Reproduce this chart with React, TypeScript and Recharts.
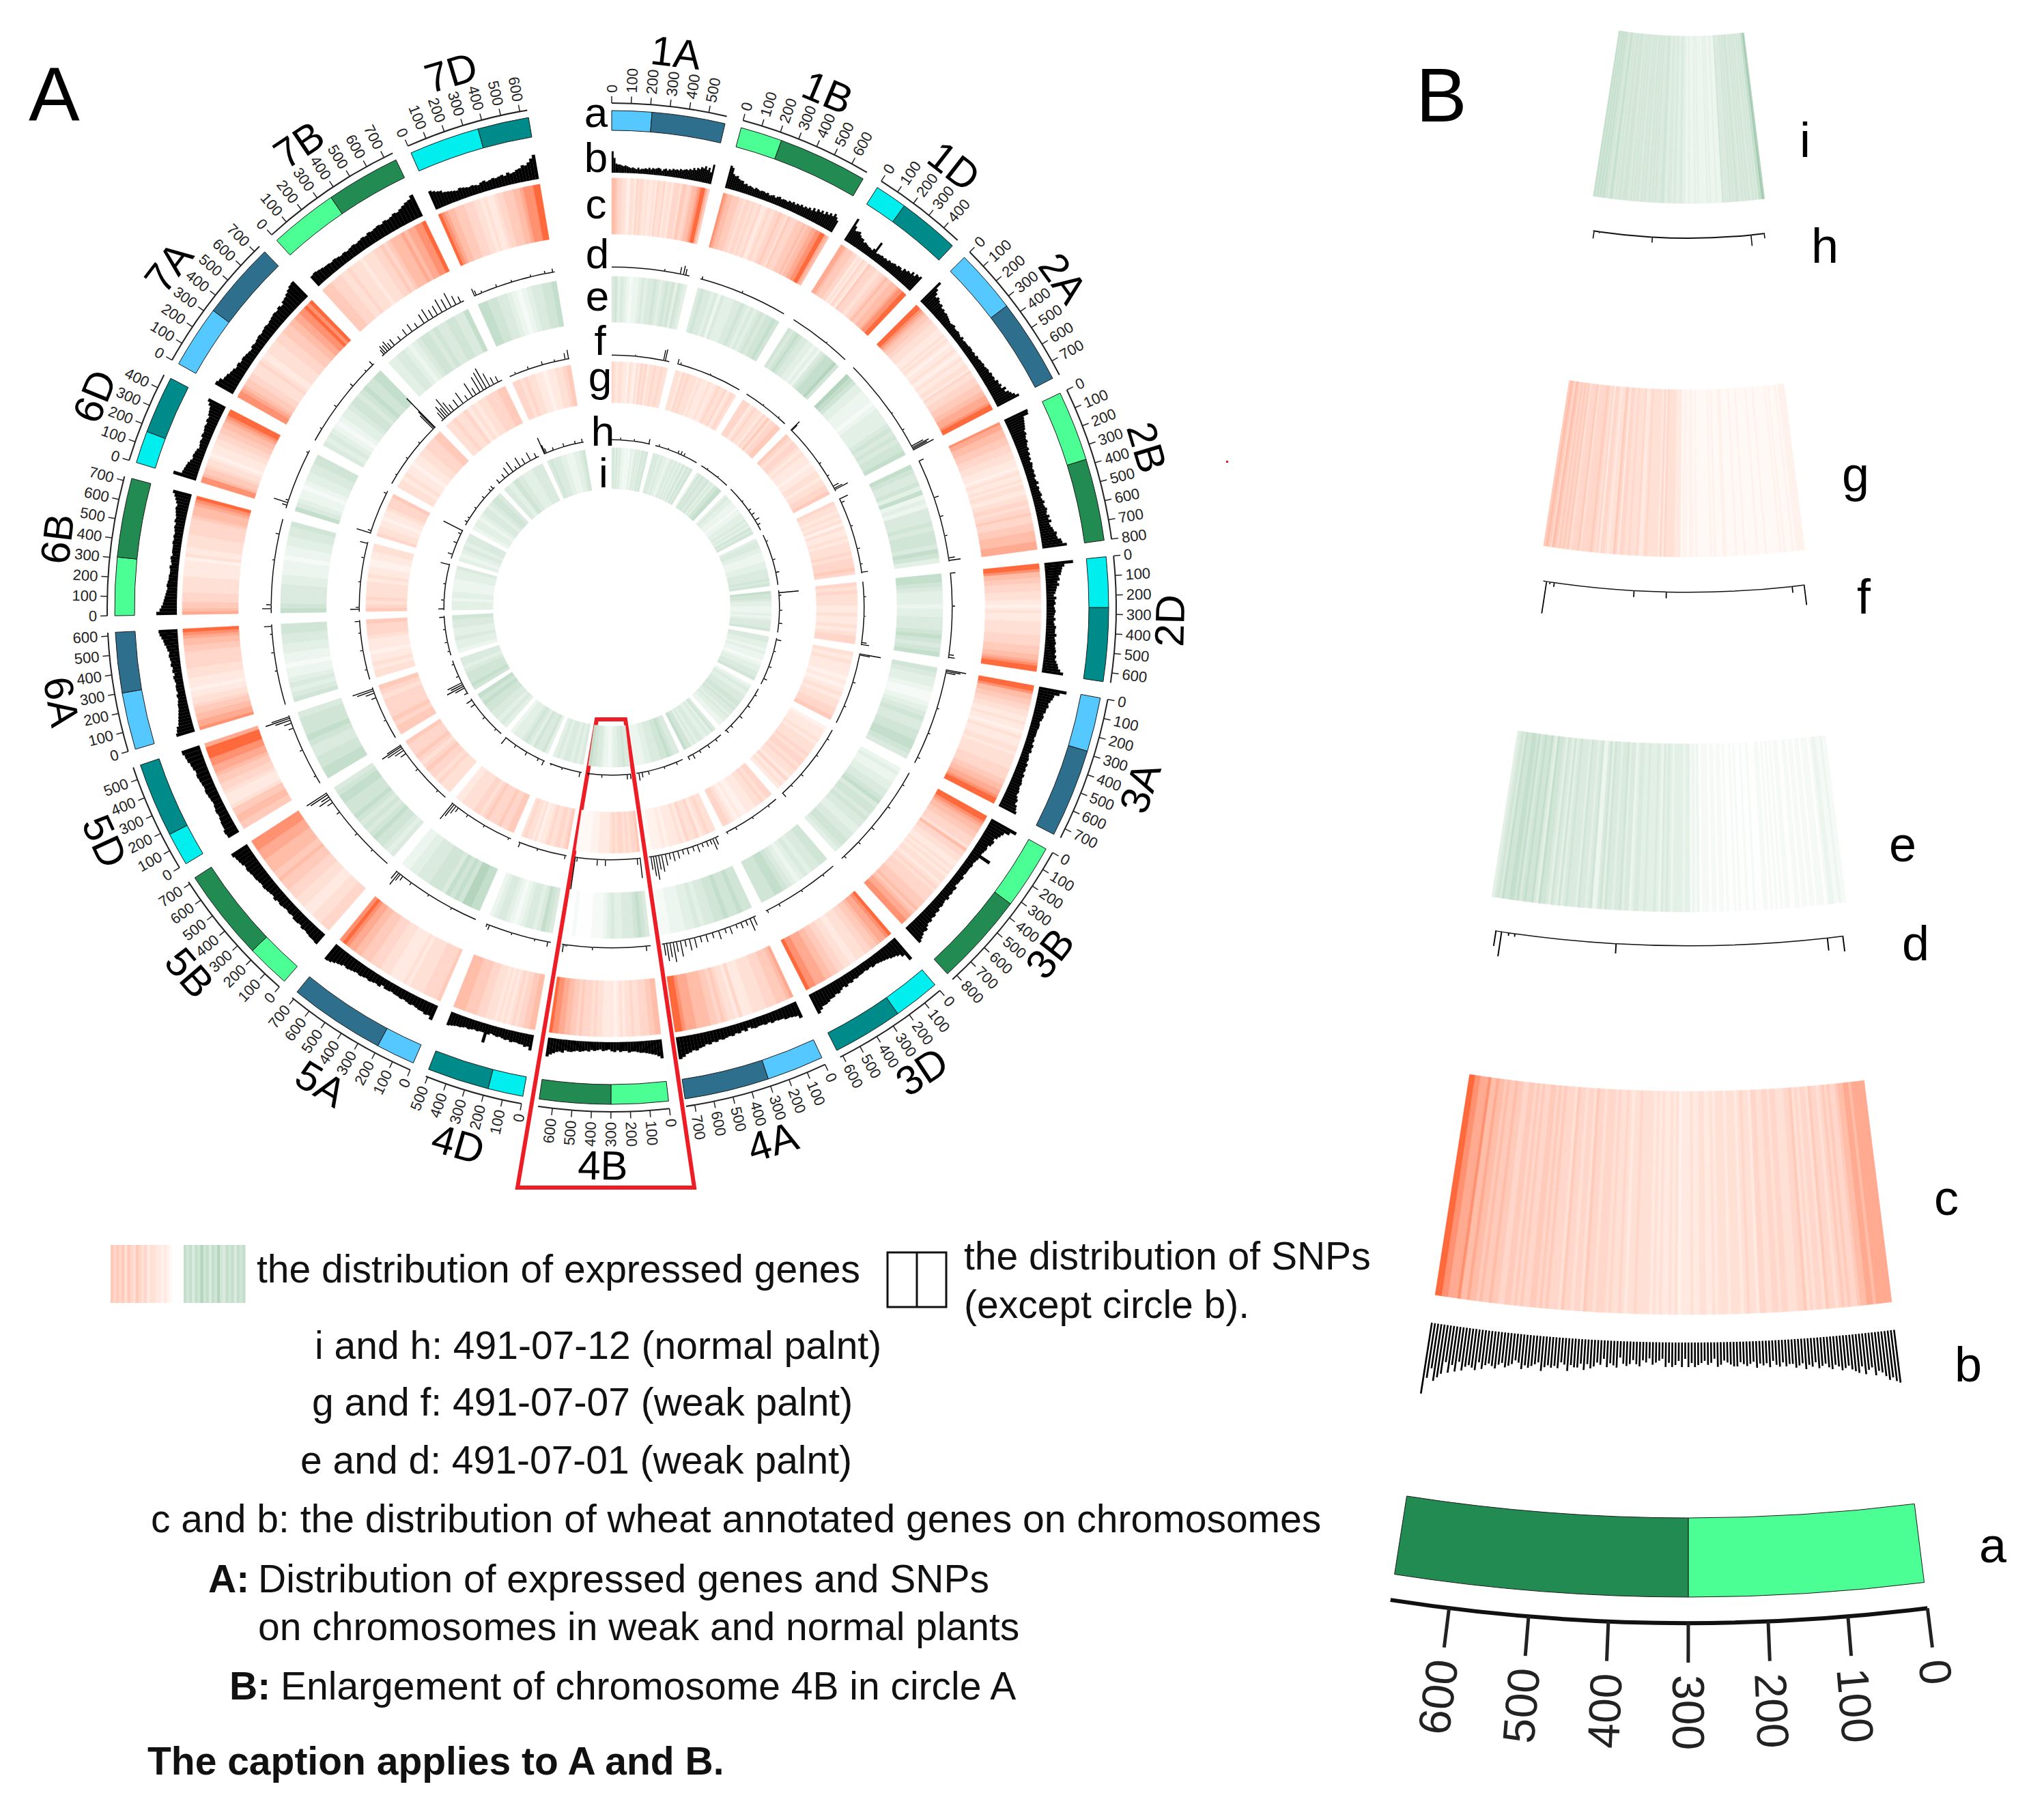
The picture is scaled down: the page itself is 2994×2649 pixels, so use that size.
import React from 'react';
import { Cell, Pie, PieChart } from 'recharts';

// chromosomes, clockwise from the top of circle A
const chromNames = ['1A', '1B', '1D', '2A', '2B', '2D', '3A', '3B', '3D', '4A', '4B', '4D', '5A', '5B', '5D', '6A', '6B', '6D', '7A', '7B', '7D'];
const chromLengths = [594, 689, 495, 781, 801, 651, 751, 830, 615, 745, 674, 510, 710, 713, 566, 618, 721, 473, 736, 750, 639];
const centromeres = [210, 220, 170, 335, 370, 265, 285, 340, 245, 300, 300, 185, 205, 230, 175, 300, 305, 170, 330, 360, 370];
const GAP_MB = 86;
const LAST_GAP_MB = 434;

const lightColors: Record<string, string> = { A: '#55C8FF', B: '#4CFF94', D: '#00EEEE' };
const darkColors: Record<string, string> = { A: '#2E6F8E', B: '#228B52', D: '#008B8B' };
const reds = ['#FFF9F6', '#FFF2ED', '#FFE9E1', '#FFE0D5', '#FFD6C9', '#FFCAB9', '#FFBCA7', '#FFAA90', '#FF9070', '#FF683A'];
const greens = ['#FDFEFD', '#F5FAF6', '#ECF5EE', '#E3F0E6', '#DAEADE', '#D0E5D6', '#C4DECC', '#B4D4BE', '#9FC8AC', '#7CB38F'];

// circle c, annotated genes (one digit per bin, 0 pale to 9 strong)
const ringC = [
  '66544332133243432322324334233244435544566789975',
  '876655544344343342234334454435444555656677889976',
  '7765554423243254443344565566678899',
  '9987655443332223232122321232233243344455566777899',
  '87766655544433322212322323322334434454445556666777',
  '998665544433322123222333334444555667899',
  '9986655443322322123222332333334444556677899',
  '9987665544436443322323233234344445556567788',
  '9877655443332233445566777889',
  '7655544433332224233454556666777899',
  '66554443343323212222334344454556677889',
  '6655443432323233344455556666',
  '5444433332322223334445556677898',
  '4443332223334445556556666777888',
  '556655322234455677889997',
  '8776655433221222333444445566789',
  '7655444333332222213223333444445666789',
  '8865543321222334455667899',
  '8876554433343223333444555667788989',
  '5554443343332333445456667677889',
  '9876655544433232234455566788899',
];
// circle e, 491-07-01
const ringE = [
  '4534321223434454345453543',
  '4544342433344543434545565',
  '5456544332324566675',
  '7653322212333345454556',
  '6544536232444545554653',
  '6654333233444565456',
  '5433211234544556654',
  '2322334456455454433445543',
  '5544343234566555',
  '5565565544343322211',
  '4565444334321110000100',
  '4564344321234432',
  '6677565645554443322',
  '4345565454565556654',
  '665544565554',
  '5434322122334455',
  '6544443322212233445',
  '6432212334455',
  '4343212334554565566',
  '3344323455454455446',
  '6655443212344556',
];
// circle g, 491-07-07
const ringG = [
  '4323322132132434233433433',
  '33243433323222322343342343',
  '44423433243534455',
  '5434432322212233233445',
  '43323231322323334344454',
  '4343332232232344',
  '32322212123233445',
  '1222323334344343324232',
  '44343322211212344',
  '33432433423222121110',
  '54434344343222211100000',
  '543443343221323343',
  '5544544454344333322',
  '3334344543454445',
  '55454444345',
  '332322122234445',
  '543433332322112233',
  '4332212234445',
  '3323221223344455',
  '3343342323344455',
  '443433221223345',
];
// circle i, 491-07-12
const ringI = [
  '453534322121232343435445',
  '44434332343434353545',
  '35454453435566',
  '34332221223334343545',
  '34443322223334444545',
  '6554332223234445',
  '443323221233445',
  '23433444554544343322',
  '45343344343556',
  '44565544433222',
  '44544332122344556',
  '434344343',
  '3544534543332',
  '3434455656',
  '565554344',
  '233433445',
  '33323322223334',
  '3234344',
  '233234434554',
  '43543344',
  '45444332223345',
];
// circle b, annotated gene counts as bar heights (base 36)
const ringB = [
  'qibaa9898767657566768687898689798a9a9babcbdcfdgfihkgjeo',
  'sqjhifeebcaba9ba9aa9a89a8ab9aa9bacacbdbdcecgdhfifjhkimjg',
  'vmhijgeebcbaa9cn9aababacbcdceecgfhgkhlkm',
  'xplhjhfgdecdcba9ab99a98a8999aa9a9babbcbcdcededgfhfkhlnqu',
  'vunmlkjhigfgedecdbcacbabab9ac9babcabdbcedcfdgdeghkjkopu',
  'zolkjghegdcb9cab9aba9b9acbbdbcdcdedfegijmq',
  'yqkjhfgeecdcabbaaa9a9bab9abacbcbdcdedefegihkln',
  'zsmkifhgdedcqcbabaaa9baa9cbcbdbcdcedfegfhkjlnp',
  'xokihfedcbcababbcbdcecegfhhjkknq',
  'lhgffddcdbcbbcb9cacbdcdedfegfhikjlmpr',
  'nkihgfeedccdbbcacb9ab9abacbcdcdeedgfgikn',
  'jfgeeddecdcbcbacnbbcbcdcdeefgh',
  'jfgeedcdcbcbbabb9cbcdcdedefgfhikmn',
  'gffedecddbcbcdcecdefefgghihjkln',
  'fgeedcdcbcdedefgfhikln',
  'nlkhgfedccbab9aa9ab9bacbcdcefhikmn',
  'pljhgfedcdcbbaab9ab9aaabababcbdcdefegikn',
  'tjihgecdcb9abacbcdcedfghkn',
  'pnjigfdecdcbacbcdcdedefgfhfijlnpq',
  'fgfeddcdcbcbcdcdedfefgfhghjikmopt',
  'omkjgfedcedcbcbacdbcdcdecfdeghkjmqu',
];
// circles d, f and h, SNP spikes as position and height pairs per chromosome
const snpsD = [
  [400, 4, 520, 11, 545, 14, 562, 10],
  [10, 5, 330, 4],
  [300, 3],
  [450, 3, 600, 4, 740, 20, 752, 28, 762, 24, 772, 34],
  [0, 8, 300, 8, 450, 6, 600, 5, 770, 10, 790, 18],
  [0, 8, 250, 5, 620, 8, 640, 10],
  [0, 30, 10, 22, 22, 15, 300, 4, 500, 4, 700, 5],
  [100, 4, 300, 5, 500, 6, 650, 5, 800, 5],
  [100, 4, 300, 4, 500, 5, 600, 5],
  [15, 14, 45, 20, 80, 9, 120, 10, 160, 7, 210, 12, 250, 8, 300, 14, 350, 9, 400, 12, 445, 10, 490, 16, 530, 18, 565, 11, 600, 24, 630, 16, 655, 30, 680, 22, 705, 27, 725, 18],
  [30, 8, 438, 5, 634, 3, 646, 3, 660, 12, 671, 8],
  [20, 8, 120, 4, 300, 4, 480, 8, 500, 5],
  [200, 4, 400, 4, 560, 5, 640, 8, 665, 12, 680, 22, 700, 14],
  [150, 4, 320, 5, 530, 6, 620, 10, 650, 20, 670, 14, 690, 30, 705, 35],
  [60, 4, 280, 5, 460, 8, 500, 12, 525, 24, 540, 38, 552, 28, 560, 40],
  [260, 4, 400, 5, 540, 4, 600, 12],
  [30, 14, 60, 8, 400, 4, 600, 6, 715, 5],
  [20, 8, 40, 22, 60, 5, 450, 4],
  [100, 4, 300, 5, 500, 6, 650, 4, 720, 8, 730, 12],
  [15, 9, 30, 14, 50, 12, 70, 16, 90, 10, 120, 12, 180, 8, 240, 12, 290, 14, 340, 9, 400, 16, 440, 20, 480, 14, 520, 16, 560, 22, 600, 18, 640, 24, 680, 15, 720, 10],
  [0, 12, 14, 8, 60, 4, 180, 5, 300, 4, 450, 4, 560, 5, 620, 6],
];
const snpsF = [
  [240, 3, 530, 16, 548, 18],
  [0, 8, 30, 4, 350, 3],
  [200, 3, 400, 3],
  [0, 18, 8, 12, 450, 4, 600, 4, 720, 10, 745, 14, 760, 22, 775, 30],
  [0, 14, 40, 6, 300, 4, 540, 5, 700, 4, 785, 10],
  [150, 4, 350, 3, 620, 8, 640, 12],
  [0, 32, 12, 16, 300, 5, 560, 4],
  [100, 4, 300, 4, 550, 5, 700, 4, 820, 8],
  [100, 4, 300, 4, 500, 5, 600, 4],
  [30, 12, 60, 18, 90, 8, 130, 9, 180, 7, 230, 12, 280, 8, 340, 10, 390, 8, 440, 12, 490, 14, 530, 10, 570, 18, 610, 26, 640, 22, 670, 36, 695, 30, 720, 20],
  [0, 30, 31, 10, 355, 10, 438, 10, 644, 7, 664, 48],
  [10, 6, 300, 4, 490, 8],
  [20, 4, 300, 4, 500, 5, 620, 8, 650, 14, 675, 22, 695, 30],
  [100, 4, 400, 5, 600, 10, 640, 16, 665, 26, 685, 34, 700, 24],
  [200, 4, 450, 8, 500, 14, 525, 26, 545, 32, 558, 22],
  [100, 4, 300, 5, 480, 4, 600, 8],
  [20, 14, 40, 6, 300, 4, 550, 5, 700, 12],
  [5, 22, 30, 6, 440, 5],
  [100, 3, 300, 4, 500, 4, 700, 28, 715, 34, 725, 60],
  [20, 14, 45, 22, 70, 16, 95, 30, 125, 20, 160, 12, 220, 14, 280, 20, 340, 9, 400, 24, 440, 12, 490, 26, 530, 30, 565, 34, 605, 22, 650, 12, 700, 10],
  [60, 4, 200, 5, 350, 6, 480, 4, 590, 10, 625, 14],
];
const snpsH = [
  [130, 4, 340, 4, 570, 8],
  [50, 4, 200, 3, 360, 5, 410, 6, 460, 5],
  [100, 3, 300, 3],
  [250, 3, 420, 5, 500, 6, 600, 8, 680, 5],
  [100, 4, 400, 5, 600, 6, 790, 5],
  [30, 30, 70, 4, 300, 5, 500, 6],
  [20, 8, 200, 4, 450, 5, 650, 6],
  [100, 4, 300, 5, 500, 6, 700, 5, 800, 6],
  [100, 5, 250, 6, 400, 5, 520, 8, 600, 6],
  [100, 5, 300, 4, 550, 6, 650, 8, 700, 12, 735, 40],
  [0, 8, 52, 8, 439, 5, 647, 3, 660, 6],
  [20, 8, 300, 4, 480, 3],
  [10, 8, 100, 5, 300, 6, 500, 5, 690, 12],
  [100, 4, 350, 5, 600, 8, 680, 10],
  [10, 6, 100, 16, 130, 28, 160, 20, 190, 24, 300, 5, 500, 4],
  [60, 4, 200, 5, 400, 4, 590, 8],
  [15, 9, 150, 5, 400, 4, 700, 14],
  [60, 8, 250, 6, 400, 5, 455, 32],
  [50, 5, 120, 4, 300, 4, 500, 5, 650, 5, 700, 6],
  [10, 7, 120, 8, 200, 14, 280, 18, 350, 6, 420, 16, 500, 10, 600, 14, 700, 8],
  [0, 26, 14, 14, 35, 8, 150, 5, 320, 6, 500, 5, 610, 6],
];

// panel B, chromosome 4B enlarged
const panelC = '7777767766544545434453443435443334434433442334323332333232233223222132322323233334332343343444344534434453444545455445454554455655656676687778899';
const panelE = '1121122101110110110110011010101011000100100101001011011011102121332333323434234333433443244354434453542254344534445435345345563465565465665564543';
const panelG = '1111010001010000001000100000100010000110001010000001011011022233334242333334322433343344245332344243454444354443545454564565';
const panelI = '7866454544545454455454544445222322232322222323222322334433443444345544454545445454454545445554554545654556565656';
// bar heights, base 36
const panelB = 'qpnomkjlhikgjihfghfegfdefcedfcdeccdbdcadbcbdabcbaccba9bc8ab9abcac8c9bcac89ab8a9cb9bcb8dcbd9cbdecfceedgdcfefefhdefgfhedfghfgihghjgkjijlhmjnioqsmrz';
const panelSnpD = [0, 23, 30, 19, 438, 15, 634, 5, 646, 5, 660, 37, 671, 23];
const panelSnpF = [0, 30, 31, 10, 355, 10, 438, 10, 644, 7, 655, 4, 664, 48];
const panelSnpH = [0, 8, 52, 17, 439, 9, 647, 3, 668, 12];

// legend swatches
const swatchRed = [5, 4, 5, 4, 5, 3, 5, 4, 3, 5, 4, 3, 4, 2, 3, 3, 2, 2, 1, 2, 1, 0];
const swatchGreen = [6, 5, 6, 4, 6, 5, 7, 5, 6, 4, 6, 5, 7, 5, 4, 6, 5, 6, 4, 6, 5, 6];

const captions: [string, number, number, boolean][] = [
  ['the distribution of expressed genes', 376, 1879, false],
  ['the distribution of SNPs', 1412, 1860, false],
  ['(except circle b).', 1412, 1931, false],
  ['i and h: 491-07-12 (normal palnt)', 461, 1991, false],
  ['g and f: 491-07-07 (weak palnt)', 457, 2074, false],
  ['e and d: 491-07-01 (weak palnt)', 440, 2159, false],
  ['c and b: the distribution of wheat annotated genes on chromosomes', 221, 2245, false],
  ['A:', 305, 2333, true],
  ['Distribution of expressed genes and SNPs', 378, 2333, false],
  ['on chromosomes in weak and normal plants', 378, 2403, false],
  ['B:', 336, 2490, true],
  ['Enlargement of chromosome 4B in circle A', 411, 2490, false],
  ['The caption applies to A and B.', 216, 2600, true],
];
const ringLetters: [string, number, number][] = [
  ['a', 873, 186], ['b', 873, 252], ['c', 873, 320], ['d', 875, 393], ['e', 875, 455], ['f', 879, 520], ['g', 879, 573], ['h', 883, 653], ['i', 884, 714],
];
const panelLetters: [string, number, number][] = [
  ['i', 2644, 230], ['h', 2673, 385], ['g', 2718, 720], ['f', 2730, 899], ['e', 2787, 1262], ['d', 2806, 1407], ['c', 2851, 1780], ['b', 2883, 2024], ['a', 2919, 2289],
];

const FONT = '"Liberation Sans", Arial, sans-serif';
const RAD = Math.PI / 180;

type Seg = { value: number; fill: string; stroke?: string; sw?: number; outer?: number; tick?: number; name?: string };

const blank = (value: number): Seg => ({ value, fill: 'transparent' });

// lays chromosome segments out around the circle with the gaps between them
const around = (perChrom: (i: number) => Seg[]): Seg[] => {
  const out: Seg[] = [];
  chromNames.forEach((_, i) => {
    out.push(...perChrom(i));
    out.push(blank(i === chromNames.length - 1 ? LAST_GAP_MB : GAP_MB));
  });
  return out;
};

const heatSegs = (digits: string, len: number, palette: string[]): Seg[] =>
  digits.split('').map((d) => {
    const fill = palette[Number(d)];
    return { value: len / digits.length, fill, stroke: fill, sw: 0.6 };
  });

const barSegs = (codes: string, len: number, base: number, scale: number, sw: number): Seg[] =>
  codes.split('').map((c) => ({ value: len / codes.length, fill: '#000', stroke: '#000', sw, outer: base + parseInt(c, 36) * scale }));

const spikeSegs = (pairs: number[], len: number, width: number, base: number, line: number): Seg[] => {
  const out: Seg[] = [];
  let pos = 0;
  for (let k = 0; k < pairs.length; k += 2) {
    const at = Math.max(pairs[k], pos);
    if (at + width > len) break;
    if (at > pos) out.push({ value: at - pos, fill: '#111', outer: base + line });
    out.push({ value: width, fill: '#000', outer: base + pairs[k + 1] });
    pos = at + width;
  }
  if (pos < len) out.push({ value: len - pos, fill: '#111', outer: base + line });
  return out;
};

const armSegs = (i: number): Seg[] => {
  const kind = chromNames[i][1];
  return [
    { value: centromeres[i], fill: lightColors[kind], stroke: '#1a1a1a', sw: 1 },
    { value: chromLengths[i] - centromeres[i], fill: darkColors[kind], stroke: '#1a1a1a', sw: 1 },
  ];
};

const tickSegs = (len: number): Seg[] => {
  const out: Seg[] = [];
  for (let m = 0; m < len; m += 100) out.push({ value: Math.min(100, len - m), fill: 'transparent', tick: m });
  return out;
};

const tickLabel = (len: number, gap: number, size: number, width: number) => (p: any) => {
  const tick = p.payload?.tick ?? p.tick;
  if (tick === undefined) return null;
  const a = p.startAngle * RAD;
  const theta = ((90 - p.startAngle) % 360 + 360) % 360;
  const r0 = p.innerRadius;
  const dx = Math.cos(a);
  const dy = -Math.sin(a);
  const tx = p.cx + (r0 + len + gap) * dx;
  const ty = p.cy + (r0 + len + gap) * dy;
  const left = theta > 180.05;
  return (
    <g>
      <line x1={p.cx + r0 * dx} y1={p.cy + r0 * dy} x2={p.cx + (r0 + len) * dx} y2={p.cy + (r0 + len) * dy} stroke="#222" strokeWidth={width} />
      <text
        x={tx}
        y={ty}
        fontSize={size}
        fontFamily={FONT}
        fill="#222"
        dominantBaseline="central"
        textAnchor={left ? 'end' : 'start'}
        transform={`rotate(${left ? theta + 90 : theta - 90} ${tx} ${ty})`}
      >
        {tick}
      </text>
    </g>
  );
};

const chromLabel = (p: any) => {
  const name = p.payload?.name ?? p.name;
  if (!name || !chromNames.includes(name)) return null;
  const theta = ((90 - p.midAngle) % 360 + 360) % 360;
  const r = 818;
  const x = p.cx + r * Math.cos(p.midAngle * RAD);
  const y = p.cy - r * Math.sin(p.midAngle * RAD);
  const rot = Math.cos(theta * RAD) > 0 ? theta : theta - 180;
  return (
    <text x={x} y={y} fontSize={60} fontFamily={FONT} fill="#000" textAnchor="middle" dominantBaseline="central" transform={`rotate(${rot} ${x} ${y})`}>
      {name}
    </text>
  );
};

type Frame = { cx: number; cy: number; start: number; end: number };
const CIRCLE: Frame = { cx: 896, cy: 890, start: 90, end: -270 };
const PANEL: Frame = { cx: 2473, cy: -448, start: -82.88, end: -98.88 };

const ring = (key: string, f: Frame, data: Seg[], inner: number, outer: number, label?: any, padding?: number) => (
  <Pie
    key={key}
    dataKey="value"
    data={data}
    cx={f.cx}
    cy={f.cy}
    startAngle={f.start}
    endAngle={f.end}
    innerRadius={inner}
    outerRadius={(d: Seg) => d.outer ?? outer}
    paddingAngle={padding ?? 0}
    stroke="none"
    label={label ?? false}
    labelLine={false}
    isAnimationActive={false}
  >
    {data.map((d, i) => (
      <Cell key={i} fill={d.fill} stroke={d.stroke ?? 'none'} strokeWidth={d.sw ?? 0} />
    ))}
  </Pie>
);

const len4B = chromLengths[10];

const App = () => {
  const axisSegs = around((i) => [{ value: chromLengths[i], fill: '#222' }]);
  const tickRing = around((i) => tickSegs(chromLengths[i]));
  const nameRing = around((i) => [{ value: chromLengths[i], fill: 'transparent', name: chromNames[i] }]);
  return (
    <div style={{ position: 'absolute', left: 0, top: 0, width: 2994, height: 2649, background: '#fff', overflow: 'hidden' }}>
      <PieChart width={2994} height={2649} margin={{ top: 0, right: 0, bottom: 0, left: 0 }}>
        {ring('a', CIRCLE, around(armSegs), 699, 728)}
        {ring('axis', CIRCLE, axisSegs, 738, 740)}
        {ring('ticks', CIRCLE, tickRing, 739, 740, tickLabel(10, 5, 22, 1.5))}
        {ring('names', CIRCLE, nameRing, 800, 801, chromLabel)}
        {ring('b', CIRCLE, around((i) => barSegs(ringB[i], chromLengths[i], 637, 1.2, 0.2)), 637, 640)}
        {ring('c', CIRCLE, around((i) => heatSegs(ringC[i], chromLengths[i], reds)), 547, 629)}
        {ring('d', CIRCLE, around((i) => spikeSegs(snpsD[i], chromLengths[i], 7, 498, 1.5)), 498, 500)}
        {ring('e', CIRCLE, around((i) => heatSegs(ringE[i], chromLengths[i], greens)), 418, 485)}
        {ring('f', CIRCLE, around((i) => spikeSegs(snpsF[i], chromLengths[i], 9, 369, 1.5)), 369, 371)}
        {ring('g', CIRCLE, around((i) => heatSegs(ringG[i], chromLengths[i], reds)), 300, 360)}
        {ring('h', CIRCLE, around((i) => spikeSegs(snpsH[i], chromLengths[i], 14, 245, 1.5)), 245, 247)}
        {ring('i', CIRCLE, around((i) => heatSegs(ringI[i], chromLengths[i], greens)), 174, 234)}

        {ring('pa', PANEL, armSegs(10), 2672, 2788)}
        {ring('paxis', PANEL, [{ value: len4B, fill: '#111' }], 2823, 2829)}
        {ring('pticks', PANEL, tickSegs(len4B), 2826, 2828, tickLabel(58, 18, 66, 5))}
        {ring('pb', { ...PANEL, cy: -474 }, barSegs(panelB, len4B, 2441, 3, 0), 2441, 2445, undefined, 0.05)}
        {ring('pc', { ...PANEL, cy: -478 }, heatSegs(panelC, len4B, reds), 2077, 2404)}
        {ring('pd', { ...PANEL, cy: -448 }, spikeSegs(panelSnpD, len4B, 2.5, 1833, 1.5), 1833, 1835)}
        {ring('pe', { ...PANEL, cy: -530 }, heatSegs(panelE, len4B, greens), 1620, 1866)}
        {ring('pf', { ...PANEL, cy: -508 }, spikeSegs(panelSnpF, len4B, 3, 1375, 1.5), 1375, 1377)}
        {ring('pg', { ...PANEL, cy: -559 }, heatSegs(panelG, len4B, reds), 1130, 1375)}
        {ring('ph', { ...PANEL, cy: -554 }, spikeSegs(panelSnpH, len4B, 4, 902, 2), 902, 904)}
        {ring('pi', { ...PANEL, cy: -604 }, heatSegs(panelI, len4B, greens), 657, 902)}

        <path d="M874 1054 L916 1054 L1017 1740 L758 1740 Z" fill="none" stroke="#EE1C25" strokeWidth={6} />
        <rect x={1796} y={675} width={3} height={3} fill="#EE1C25" />

        {swatchRed.map((d, i) => (
          <rect key={`sr${i}`} x={162 + i * (90 / swatchRed.length)} y={1824} width={90 / swatchRed.length + 0.5} height={85} fill={reds[d]} />
        ))}
        {swatchGreen.map((d, i) => (
          <rect key={`sg${i}`} x={269 + i * (90 / swatchGreen.length)} y={1824} width={90 / swatchGreen.length + 0.5} height={85} fill={greens[d]} />
        ))}
        <rect x={1300} y={1835} width={86} height={80} fill="none" stroke="#111" strokeWidth={3} />
        <line x1={1343} y1={1835} x2={1343} y2={1915} stroke="#111" strokeWidth={3} />

        <text x={42} y={176} fontSize={112} fontFamily={FONT} fill="#000">A</text>
        <text x={2074} y={178} fontSize={112} fontFamily={FONT} fill="#000">B</text>
        {ringLetters.map(([t, x, y]) => (
          <text key={t + x} x={x} y={y} fontSize={62} fontFamily={FONT} fill="#000" textAnchor="middle">{t}</text>
        ))}
        {panelLetters.map(([t, x, y]) => (
          <text key={t + x} x={x} y={y} fontSize={72} fontFamily={FONT} fill="#000" textAnchor="middle">{t}</text>
        ))}
        {captions.map(([t, x, y, bold]) => (
          <text key={t} x={x} y={y} fontSize={57} fontWeight={bold ? 700 : 400} fontFamily={FONT} fill="#111">{t}</text>
        ))}
      </PieChart>
    </div>
  );
};

export default App;
